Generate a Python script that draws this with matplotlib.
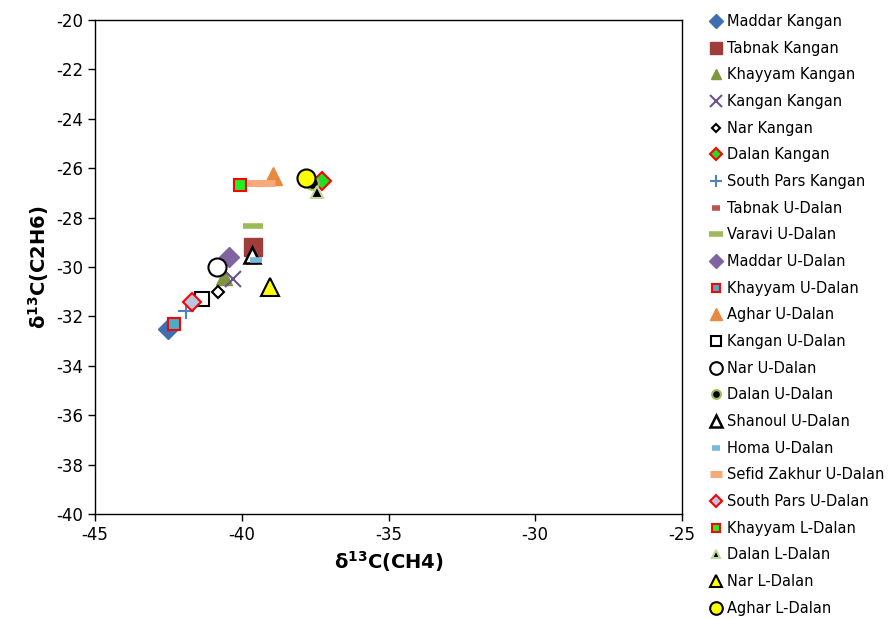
import matplotlib
matplotlib.use("Agg")
from matplotlib import pyplot as plt

plt.rcParams['axes.unicode_minus'] = False

# carbon isotope data, one entry per field / formation
names = ['Maddar Kangan', 'Tabnak Kangan', 'Khayyam Kangan', 'Kangan Kangan',
         'Nar Kangan', 'Dalan Kangan', 'South Pars Kangan', 'Tabnak U-Dalan',
         'Varavi U-Dalan', 'Maddar U-Dalan', 'Khayyam U-Dalan', 'Aghar U-Dalan',
         'Kangan U-Dalan', 'Nar U-Dalan', 'Dalan U-Dalan', 'Shanoul U-Dalan',
         'Homa U-Dalan', 'Sefid Zakhur U-Dalan', 'South Pars U-Dalan',
         'Khayyam L-Dalan', 'Dalan L-Dalan', 'Nar L-Dalan', 'Aghar L-Dalan']

ch4 = [[-42.5], [-39.6], [-40.6], [-40.3],
       [-40.8], [-37.25], [-41.9], [-39.65],
       [-39.6], [-40.45], [-42.3], [-38.95],
       [-41.35], [-40.85], [-37.6], [-39.65],
       [-39.5], [-39.55, -39.15], [-41.7],
       [-40.05], [-37.45], [-39.05], [-37.8]]

c2h6 = [[-32.5], [-29.2], [-30.4], [-30.5],
        [-31.0], [-26.5], [-31.8], [-29.8],
        [-28.35], [-29.6], [-32.3], [-26.3],
        [-31.3], [-30.0], [-26.6], [-29.5],
        [-29.7], [-26.6, -26.6], [-31.4],
        [-26.7], [-26.95], [-30.8], [-26.4]]

# marker, size, face, edge, edge width
styles = [
    ('D', 10, '#3F6FAE', '#3F6FAE', 1),
    ('s', 13, '#9E3D3A', '#9E3D3A', 1),
    ('^', 11, '#80963E', '#80963E', 1),
    ('x', 12, '#6A5490', '#6A5490', 1.5),
    ('D', 6, 'white', 'black', 1.5),
    ('D', 9, '#22DD22', '#FF0000', 1.5),
    ('+', 12, '#4F81BD', '#4F81BD', 1.5),
    ('_', 9, '#C0504D', '#C0504D', 4),
    ('_', 14, '#9BBB59', '#9BBB59', 4),
    ('D', 10, '#8064A2', '#8064A2', 1),
    ('s', 9, '#4BACC6', '#FF0000', 1.5),
    ('^', 13, '#E8893F', '#E8893F', 1),
    ('s', 10, 'white', 'black', 1.5),
    ('o', 13, 'white', 'black', 1.5),
    ('o', 9, 'black', '#9BBB59', 1.5),
    ('^', 12, 'white', 'black', 1.8),
    ('_', 9, '#79B8D6', '#79B8D6', 4),
    ('_', 12, '#F9A878', '#F9A878', 5),
    ('D', 9, '#B9C6E0', '#FF0000', 1.5),
    ('s', 9, '#22EE22', '#FF0000', 1.5),
    ('^', 8, 'black', '#C4D6A0', 1.5),
    ('^', 13, '#FFFF00', 'black', 1.5),
    ('o', 13, '#FFFF00', 'black', 1.5),
]

fig = plt.figure(figsize=(8.88, 6.19), dpi=100)
ax = fig.add_axes([95 / 888, 1 - 514 / 619, 587 / 888, 494 / 619])

for name, xs, ys, (m, ms, fc, ec, mew) in zip(names, ch4, c2h6, styles):
    ax.plot(xs, ys, linestyle='none', marker=m, markersize=ms,
            markerfacecolor=fc, markeredgecolor=ec, markeredgewidth=mew,
            color=ec, label=name)

ax.set_xlim(-45, -25)
ax.set_ylim(-40, -20)
ax.set_xticks(range(-45, -24, 5))
ax.set_yticks(range(-40, -19, 2))
ax.tick_params(labelsize=12, direction='out', length=5, width=1)
for s in ax.spines.values():
    s.set_linewidth(1)

ax.set_xlabel(r'δ$^{\mathbf{13}}$C(CH4)', fontsize=14, fontweight='bold')
ax.set_ylabel(r'δ$^{\mathbf{13}}$C(C2H6)', fontsize=14, fontweight='bold')

fig.legend(loc='upper left', bbox_to_anchor=(711 / 888, 1 - 14 / 619),
           frameon=False, fontsize=10.5, markerscale=0.7, handlelength=0.7,
           handletextpad=0.4, labelspacing=0.8, borderaxespad=0, borderpad=0,
           numpoints=1)

plt.savefig('out.png', dpi=100)
